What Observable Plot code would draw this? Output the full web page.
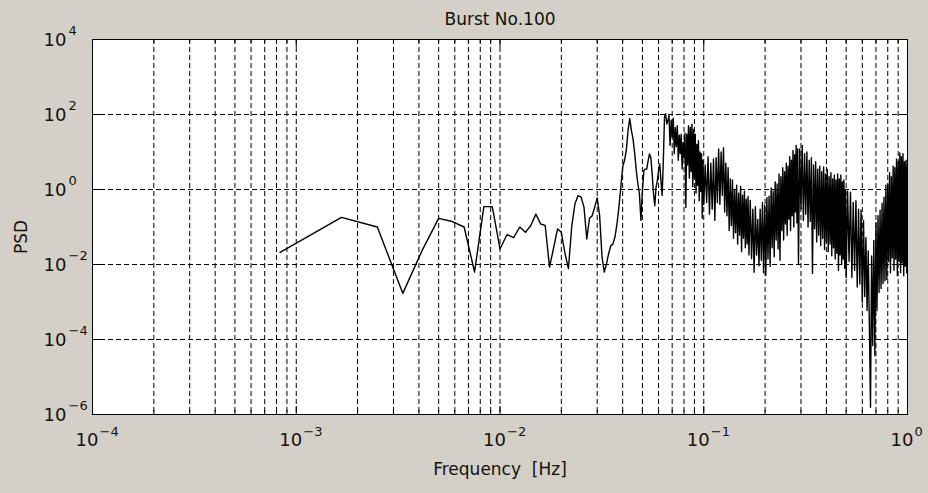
<!DOCTYPE html>
<html>
<head>
<meta charset="utf-8">
<script src="https://cdn.jsdelivr.net/npm/d3@7"></script>
<script src="https://cdn.jsdelivr.net/npm/@observablehq/plot@0.6"></script>
<style>
  html, body { margin: 0; padding: 0; background: #d4d0c8; }
  #chart svg { display: block; }
</style>
</head>
<body>
<div id="chart"></div>
<script>
// Spectral resolution of the burst record (Hz per FFT bin)
const df = 1 / 1200;

// Low-frequency part: every bin
const sparseBins = [
  1, 2, 3, 4, 5, 6, 7, 8, 9, 10, 11, 12, 13, 14, 15, 16, 17, 18, 19, 20,
  21, 22, 23, 24, 25, 26, 27, 28, 29, 30, 31, 32, 33, 34, 35, 36, 37, 38, 39, 40,
  41, 42, 43, 44, 45, 46, 47, 48, 49, 50, 51, 52, 53, 54, 55, 56, 57, 58, 59, 60,
  61, 62, 63, 64, 65, 66, 67, 68, 69, 70, 71, 72, 73, 74, 75, 76, 77, 78, 79, 80
];
const sparsePsd = [
  2.1e-2, 0.18, 0.1, 1.7e-3, 2.5e-2, 0.17, 0.14, 0.1, 6.3e-3, 0.35,
  0.35, 2.6e-2, 6.3e-2, 5.2e-2, 0.1, 7.2e-2, 0.11, 0.22, 0.12, 0.11,
  8.5e-3, 2.8e-2, 8.9e-2, 7.2e-2, 2.0e-2, 7.8e-3, 0.105, 0.42, 0.69, 0.63,
  0.34, 4.8e-2, 0.17, 0.2, 0.34, 0.6, 0.2, 1.6e-2, 6.3e-3, 1.05e-2,
  2.0e-2, 3.2e-2, 3.5e-2, 5.4e-2, 0.12, 0.34, 1.15, 4.0, 5.9, 11,
  37, 78, 37, 22, 8.9, 3.2, 1.4, 0.78, 0.15, 0.93,
  3.2, 3.5, 3.5, 5.9, 8.9, 7.1, 2.6, 0.78, 0.37, 1.15,
  1.7, 3.2, 4.8, 1.7, 0.69, 5.9, 85, 105, 56, 69
];

// High-frequency part: decimated bins
const denseBins = [
  81, 82, 83, 84, 85, 86, 87, 88, 89, 90, 91, 92, 93, 94, 95, 96, 97, 98, 99, 100,
  101, 102, 103, 104, 105, 106, 107, 108, 109, 110, 111, 112, 113, 114, 115, 116, 117, 118, 119, 120,
  122, 124, 126, 128, 130, 132, 134, 136, 138, 140, 142, 144, 146, 148, 150, 152, 154, 156, 158, 160,
  162, 164, 166, 168, 170, 172, 174, 176, 178, 180, 182, 184, 186, 188, 190, 192, 194, 196, 198, 200,
  203, 206, 209, 212, 215, 218, 221, 224, 227, 230, 233, 236, 239, 242, 245, 248, 251, 254, 257, 260,
  263, 266, 269, 272, 275, 278, 281, 284, 287, 290, 293, 296, 299, 302, 305, 308, 311, 314, 317, 320,
  323, 326, 329, 332, 335, 338, 341, 344, 347, 350,
  355, 360, 365, 370, 375, 380, 385, 390, 395, 400, 405, 410, 415, 420, 425, 430, 435, 440, 445, 450,
  455, 460, 465, 470, 475, 480, 485, 490, 495, 500, 505, 510, 515, 520, 525, 530, 535, 540, 545, 550,
  555, 560, 565, 570, 575, 580, 585, 590, 595, 600,
  610, 620, 630, 640, 650, 660, 670, 680, 690, 700, 710, 720, 730, 740, 750, 760, 770, 780, 790, 800,
  810, 820, 830, 840, 850, 860, 870, 880, 890, 900, 910, 920, 930, 940, 950, 960, 970, 980, 990, 1000,
  1010, 1020, 1030, 1040, 1050, 1060, 1070, 1080, 1090, 1100, 1110, 1120, 1130, 1140, 1150, 1160, 1170, 1180, 1190, 1200
];
const densePsd = [
  93, 15, 70, 25, 80, 9, 45, 14, 50, 6, 28, 9, 30, 3.5, 18, 7, 32, 0.33, 30, 4.5,
  50, 2, 45, 3, 55, 1.2, 40, 2, 30, 0.8, 16, 1.3, 20, 0.5, 10, 0.9, 9, 0.17, 6, 0.4,
  4.5, 0.45, 7.5, 0.22, 5, 0.3, 6.5, 0.15, 7, 0.45, 12, 0.4, 10, 0.7, 13, 0.25, 5, 0.2, 3.8, 0.08,
  1.9, 0.11, 1.8, 5e-2, 1.0, 7e-2, 1.3, 3.5e-2, 0.8, 6e-2, 1.2, 2.2e-2, 0.7, 5e-2, 0.9, 2.8e-2, 0.55, 3.5e-2, 0.65, 1.8e-2,
  0.51, 1.45e-2, 0.3, 6.2e-3, 0.35, 1.8e-2, 0.16, 9.3e-3, 0.3, 1.3e-2, 0.45, 6e-3, 0.38, 5.1e-3, 0.6, 1.4e-2, 0.66, 9e-3, 1.1, 2.8e-2,
  0.9, 1.6e-2, 1.6, 4.5e-2, 1.4, 2.6e-2, 2.6, 1.3e-2, 2.2, 8e-2, 3.8, 4.5e-2, 3.0, 0.12, 5.0, 6e-2, 4.2, 0.16, 7.5, 8e-2,
  6.0, 0.2, 11, 0.1, 8.5, 0.25, 15, 0.13, 12, 1.07e-2,
  12, 0.3, 15, 0.15, 9, 0.22, 10, 0.1, 6, 0.14, 7, 5.8e-3, 4.5, 9e-2, 5.5, 4e-2, 3.5, 6e-2, 4.2, 3.2e-2,
  3.0, 5e-2, 4.0, 2.5e-2, 2.6, 4e-2, 3.4, 2.2e-2, 2.2, 3.5e-2, 2.8, 1.7e-2, 1.9, 2.8e-2, 2.4, 1.4e-2, 1.8, 2e-2, 2.6, 6.9e-3,
  1.9, 1.8e-2, 2.4, 1e-2, 1.6, 1.4e-2, 1.8, 8e-3, 1.0, 4.5e-3,
  0.9, 1.2e-2, 0.85, 4.5e-3, 0.45, 7e-3, 0.5, 2.5e-3, 0.3, 3e-3, 0.28, 1.0e-3, 0.15, 1.4e-3, 5.2e-2, 5.9e-4, 2.3e-2, 2.3e-4, 1.55e-6, 1.7e-2,
  6.9e-5, 4.4e-2, 3.7e-5, 0.13, 5.9e-4, 0.2, 1.8e-3, 0.28, 2.3e-3, 0.43, 3.1e-3, 0.62, 3.7e-3, 1.3, 4e-3, 1.4, 1.2e-2, 2.8, 6e-3, 2.2,
  1.5e-2, 4.2, 7e-3, 3.8, 1.4e-2, 6.5, 5e-3, 5.5, 1.2e-2, 9.5, 6e-3, 7.5, 1.1e-2, 9, 5e-3, 5.5, 9e-3, 6, 6e-3, 4.4
];

// Axis decorations
const xTickValues = [1e-4, 1e-3, 1e-2, 1e-1, 1];
const xTickExponents = ["\u22124", "\u22123", "\u22122", "\u22121", "0"];
const yTickValues = [1e-6, 1e-4, 1e-2, 1, 1e2, 1e4];
const yTickExponents = ["\u22126", "\u22124", "\u22122", "0", "2", "4"];
const titleText = "Burst No.100";
const xLabelText = "Frequency  [Hz]";
const yLabelText = "PSD";

const spectrum = [
  ...sparseBins.map((b, i) => ({f: b * df, psd: sparsePsd[i]})),
  ...denseBins.map((b, i) => ({f: b * df, psd: densePsd[i]}))
];

const xTicks = xTickValues.map((v, i) => ({v, exp: xTickExponents[i]}));
const yTicks = yTickValues.map((v, i) => ({v, exp: yTickExponents[i]}));

// Decade and sub-decade grid positions inside the frame
const xAll = d3.scaleLog().domain([1e-4, 1]).ticks();
const xGrid = xAll.filter(v => v > 1.0001e-4 && v < 0.9999);
const isDecade = v => Math.abs(Math.log10(v) - Math.round(Math.log10(v))) < 1e-9;
const xMajorInner = xGrid.filter(isDecade);
const xMinorInner = xGrid.filter(v => !isDecade(v));
const yGrid = yTickValues.slice(1, -1);

const W = 928, H = 493;
const mL = 92, mR = 21, mT = 39, mB = 79;
const plotW = W - mL - mR, plotH = H - mT - mB;
const FONT = "DejaVu Sans";
const dash = "5,3";

const chart = Plot.plot({
  width: W,
  height: H,
  marginLeft: mL,
  marginRight: mR,
  marginTop: mT,
  marginBottom: mB,
  x: {type: "log", domain: [1e-4, 1], axis: null},
  y: {type: "log", domain: [1e-6, 1e4], axis: null},
  style: {background: "#d4d0c8", fontFamily: FONT, color: "black"},
  marks: [
    Plot.frame({fill: "white", stroke: null}),
    Plot.ruleX(xGrid, {stroke: "black", strokeWidth: 1, strokeDasharray: dash}),
    Plot.ruleY(yGrid, {stroke: "black", strokeWidth: 1, strokeDasharray: dash}),
    // inward tick marks
    Plot.tickX(xMajorInner, {x: d => d, insetTop: plotH - 8, stroke: "black"}),
    Plot.tickX(xMajorInner, {x: d => d, insetBottom: plotH - 8, stroke: "black"}),
    Plot.tickX(xMinorInner, {x: d => d, insetTop: plotH - 4, stroke: "black"}),
    Plot.tickX(xMinorInner, {x: d => d, insetBottom: plotH - 4, stroke: "black"}),
    Plot.tickY(yGrid, {y: d => d, insetRight: plotW - 8, stroke: "black"}),
    Plot.tickY(yGrid, {y: d => d, insetLeft: plotW - 8, stroke: "black"}),
    // spectrum
    Plot.line(spectrum, {x: "f", y: "psd", stroke: "black", strokeWidth: 1.4, clip: true}),
    Plot.frame({stroke: "black", strokeWidth: 1}),
    // x tick labels 10^n
    Plot.text(xTicks, {x: "v", frameAnchor: "bottom", text: () => "10", textAnchor: "end",
      dx: 6, dy: 31, fontSize: 18, fill: "#111"}),
    Plot.text(xTicks, {x: "v", frameAnchor: "bottom", text: "exp", textAnchor: "start",
      dx: 7, dy: 21, fontSize: 13, fill: "#111"}),
    // y tick labels 10^n
    Plot.text(yTicks, {y: "v", frameAnchor: "left", text: () => "10", textAnchor: "end",
      dx: -26, dy: 1, fontSize: 18, fill: "#111"}),
    Plot.text(yTicks, {y: "v", frameAnchor: "left", text: "exp", textAnchor: "start",
      dx: -24, dy: -9, fontSize: 13, fill: "#111"}),
    // titles
    Plot.text([titleText], {frameAnchor: "top", dy: -27, fontSize: 17, fill: "#111"}),
    Plot.text([xLabelText], {frameAnchor: "bottom", dy: 60, fontSize: 17, fill: "#111"}),
    Plot.text([yLabelText], {frameAnchor: "left", dx: -71, dy: 27, rotate: -90, fontSize: 17, fill: "#111"})
  ]
});

document.getElementById("chart").appendChild(chart);
</script>
</body>
</html>
